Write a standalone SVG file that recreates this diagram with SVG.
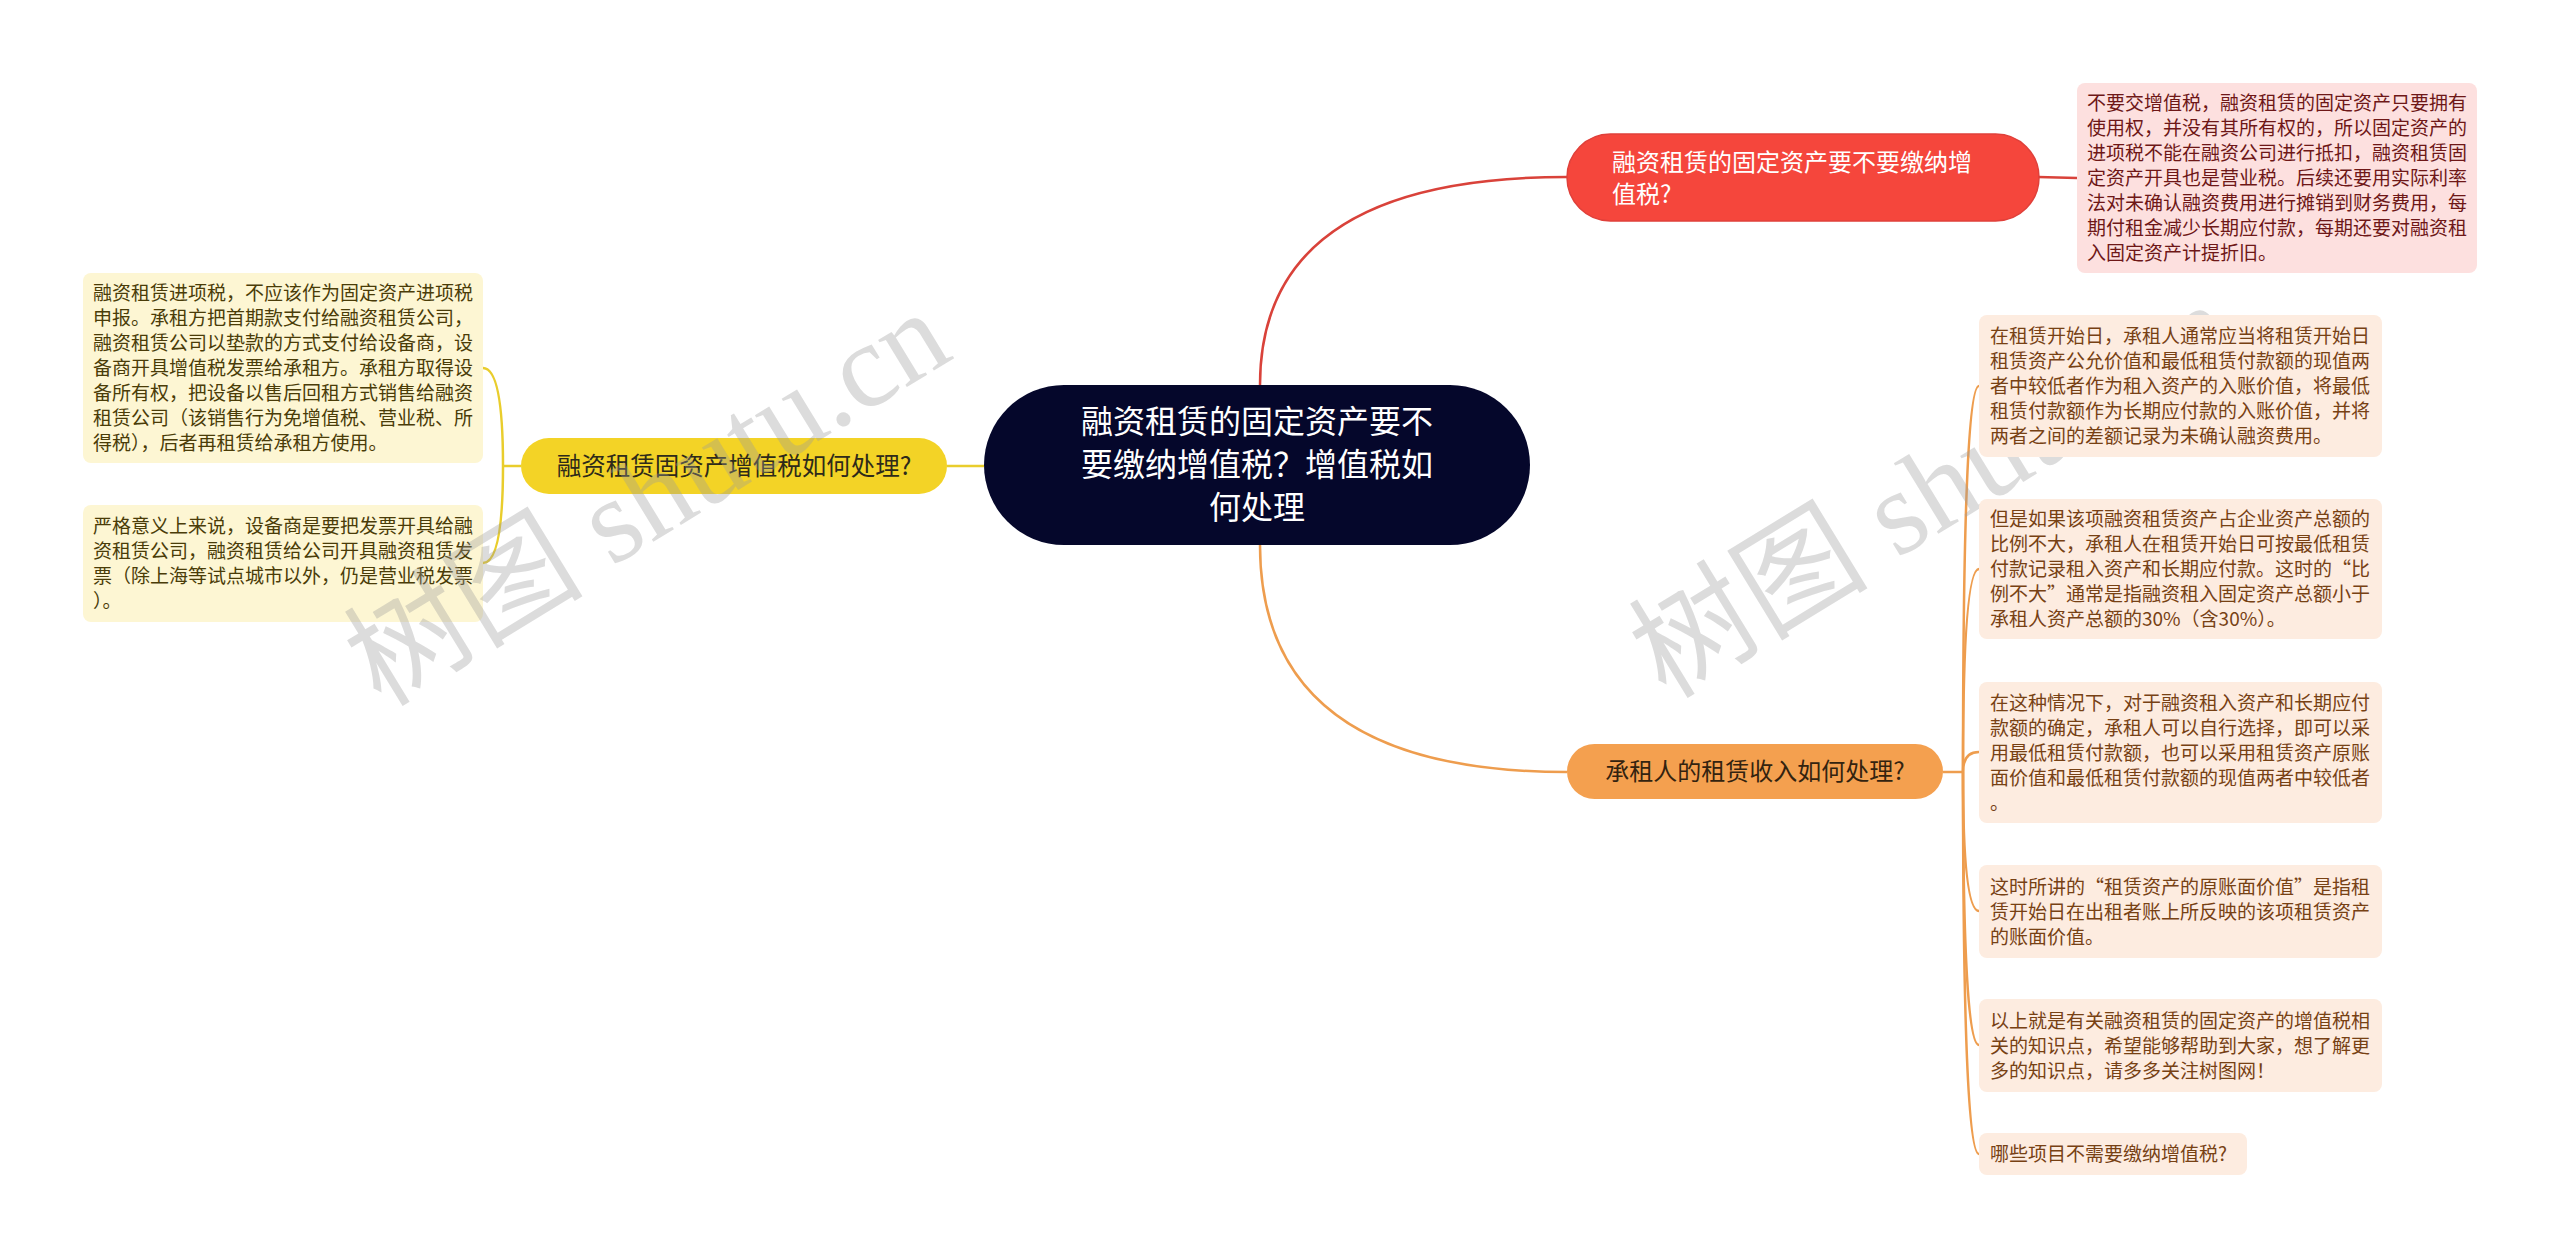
<svg xmlns="http://www.w3.org/2000/svg" width="2560" height="1259" viewBox="0 0 2560 1259">
<style>
.t{font-family:"Noto Sans CJK SC","Noto Sans",sans-serif}
.leaf{font-size:19px}
.lr{fill:#fde0df}
.ly{fill:#fdf6d3}
.lo{fill:#fdece0}
.tr{fill:#6e1717}
.ty{fill:#4a3c08}
.to{fill:#774114}
.cr{fill:none;stroke:#d9423a;stroke-width:2.5}
.cy{fill:none;stroke:#e9cd2c;stroke-width:2.5}
.co{fill:none;stroke:#ee9d4e;stroke-width:2.5}
.wm{font-family:"Liberation Serif","Noto Sans CJK SC",serif;font-size:120px;fill:#9a9a9a;fill-opacity:0.35}
</style>
<rect width="2560" height="1259" fill="#ffffff"/>
<g id="connectors">
<path class="cr" d="M1260 385 Q1260 177 1567 177"/>
<path class="cr" d="M2038 177 L2077 178"/>
<path class="co" d="M1260 545 Q1260 772 1567 772"/>
<path class="cy" d="M984 466 L947 466"/>
<path class="cy" d="M521 466 L503 466"/>
<path class="cy" d="M503 466 Q503 368 483 368"/>
<path class="cy" d="M503 466 Q503 563 483 563"/>
<path class="co" d="M1943 772 L1963 772"/>
<path class="co" d="M1963 772 Q1963 386 1979 386"/>
<path class="co" d="M1963 772 Q1963 569 1979 569"/>
<path class="co" d="M1963 772 Q1963 752 1979 752"/>
<path class="co" d="M1963 772 Q1963 911 1979 911"/>
<path class="co" d="M1963 772 Q1963 1045 1979 1045"/>
<path class="co" d="M1963 772 Q1963 1154 1979 1154"/>
</g>
<text class="wm" transform="translate(1666 700) rotate(-31.4)">树图 shutu.cn</text>
<g id="root">
<rect x="984" y="385" width="546" height="160" rx="80" fill="#05072b"/>
<text class="t" font-size="32" fill="#ffffff" text-anchor="middle"><tspan x="1257" y="433">融资租赁的固定资产要不</tspan><tspan x="1257" y="476">要缴纳增值税？增值税如</tspan><tspan x="1257" y="519">何处理</tspan></text>
</g>
<g id="n-red">
<rect x="1567" y="134" width="472" height="87" rx="43.5" fill="#f5463c" stroke="#e0403a" stroke-width="1.5"/>
<text class="t" font-size="24" fill="#ffffff"><tspan x="1612" y="171">融资租赁的固定资产要不要缴纳增</tspan><tspan x="1612" y="203">值税?</tspan></text>
</g>
<g id="n-red-leaf">
<rect class="lr" x="2077" y="83" width="400" height="190" rx="8"/>
<text class="t leaf tr"><tspan x="2087" y="110">不要交增值税，融资租赁的固定资产只要拥有</tspan><tspan x="2087" y="135">使用权，并没有其所有权的，所以固定资产的</tspan><tspan x="2087" y="160">进项税不能在融资公司进行抵扣，融资租赁固</tspan><tspan x="2087" y="185">定资产开具也是营业税。后续还要用实际利率</tspan><tspan x="2087" y="210">法对未确认融资费用进行摊销到财务费用，每</tspan><tspan x="2087" y="235">期付租金减少长期应付款，每期还要对融资租</tspan><tspan x="2087" y="260">入固定资产计提折旧。</tspan></text>
</g>
<g id="n-yellow">
<rect x="521" y="438" width="426" height="56" rx="28" fill="#f3d326"/>
<text class="t" font-size="24.5" fill="#2e2a1a" text-anchor="middle" x="734" y="475">融资租赁固资产增值税如何处理?</text>
</g>
<g id="n-yellow-leaf1">
<rect class="ly" x="83" y="273" width="400" height="190" rx="8"/>
<text class="t leaf ty"><tspan x="93" y="300">融资租赁进项税，不应该作为固定资产进项税</tspan><tspan x="93" y="325">申报。承租方把首期款支付给融资租赁公司，</tspan><tspan x="93" y="350">融资租赁公司以垫款的方式支付给设备商，设</tspan><tspan x="93" y="375">备商开具增值税发票给承租方。承租方取得设</tspan><tspan x="93" y="400">备所有权，把设备以售后回租方式销售给融资</tspan><tspan x="93" y="425">租赁公司（该销售行为免增值税、营业税、所</tspan><tspan x="93" y="450">得税），后者再租赁给承租方使用。</tspan></text>
</g>
<g id="n-yellow-leaf2">
<rect class="ly" x="83" y="505" width="400" height="117" rx="8"/>
<text class="t leaf ty"><tspan x="93" y="533">严格意义上来说，设备商是要把发票开具给融</tspan><tspan x="93" y="558">资租赁公司，融资租赁给公司开具融资租赁发</tspan><tspan x="93" y="583">票（除上海等试点城市以外，仍是营业税发票</tspan><tspan x="93" y="608">）。</tspan></text>
</g>
<g id="n-orange">
<rect x="1567" y="744" width="376" height="55" rx="27.5" fill="#f4a04f"/>
<text class="t" font-size="24" fill="#33230f" text-anchor="middle" x="1755" y="780">承租人的租赁收入如何处理?</text>
</g>
<g id="n-o1">
<rect class="lo" x="1979" y="315" width="403" height="142" rx="8"/>
<text class="t leaf to"><tspan x="1990" y="343">在租赁开始日，承租人通常应当将租赁开始日</tspan><tspan x="1990" y="368">租赁资产公允价值和最低租赁付款额的现值两</tspan><tspan x="1990" y="393">者中较低者作为租入资产的入账价值，将最低</tspan><tspan x="1990" y="418">租赁付款额作为长期应付款的入账价值，并将</tspan><tspan x="1990" y="443">两者之间的差额记录为未确认融资费用。</tspan></text>
</g>
<g id="n-o2">
<rect class="lo" x="1979" y="499" width="403" height="140" rx="8"/>
<text class="t leaf to"><tspan x="1990" y="526">但是如果该项融资租赁资产占企业资产总额的</tspan><tspan x="1990" y="551">比例不大，承租人在租赁开始日可按最低租赁</tspan><tspan x="1990" y="576">付款记录租入资产和长期应付款。这时的“比</tspan><tspan x="1990" y="601">例不大”通常是指融资租入固定资产总额小于</tspan><tspan x="1990" y="626">承租人资产总额的30%（含30%）。</tspan></text>
</g>
<g id="n-o3">
<rect class="lo" x="1979" y="682" width="403" height="141" rx="8"/>
<text class="t leaf to"><tspan x="1990" y="710">在这种情况下，对于融资租入资产和长期应付</tspan><tspan x="1990" y="735">款额的确定，承租人可以自行选择，即可以采</tspan><tspan x="1990" y="760">用最低租赁付款额，也可以采用租赁资产原账</tspan><tspan x="1990" y="785">面价值和最低租赁付款额的现值两者中较低者</tspan><tspan x="1990" y="810">。</tspan></text>
</g>
<g id="n-o4">
<rect class="lo" x="1979" y="865" width="403" height="93" rx="8"/>
<text class="t leaf to"><tspan x="1990" y="894">这时所讲的“租赁资产的原账面价值”是指租</tspan><tspan x="1990" y="919">赁开始日在出租者账上所反映的该项租赁资产</tspan><tspan x="1990" y="944">的账面价值。</tspan></text>
</g>
<g id="n-o5">
<rect class="lo" x="1979" y="999" width="403" height="93" rx="8"/>
<text class="t leaf to"><tspan x="1990" y="1028">以上就是有关融资租赁的固定资产的增值税相</tspan><tspan x="1990" y="1053">关的知识点，希望能够帮助到大家，想了解更</tspan><tspan x="1990" y="1078">多的知识点，请多多关注树图网！</tspan></text>
</g>
<g id="n-o6">
<rect class="lo" x="1979" y="1133" width="268" height="42" rx="8"/>
<text class="t leaf to" x="1990" y="1161">哪些项目不需要缴纳增值税?</text>
</g>
<text class="wm" transform="translate(381 708) rotate(-31.4)">树图 shutu.cn</text>
</svg>
